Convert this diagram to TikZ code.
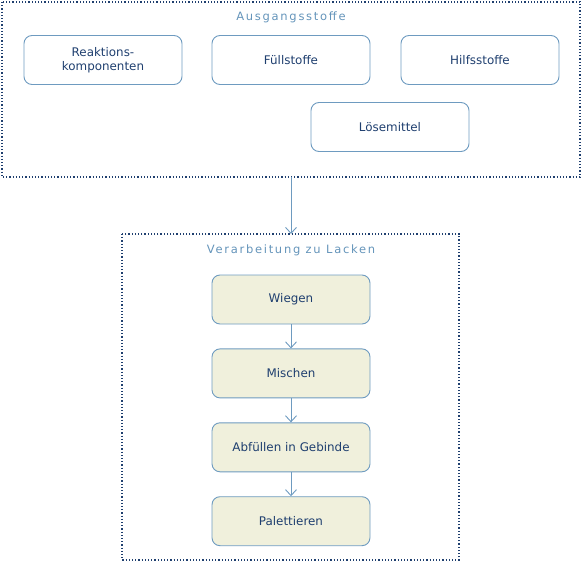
\documentclass[tikz,border=0pt]{standalone}
\usepackage{fontspec}
\setmainfont{DejaVu Sans}
\newfontfamily\titlefont[LetterSpace=15]{DejaVu Sans}
\usetikzlibrary{positioning,arrows.meta}

\definecolor{navy}{RGB}{31,63,111}
\definecolor{boxline}{RGB}{110,155,192}
\definecolor{boxfill}{RGB}{240,240,220}
\definecolor{titleblue}{RGB}{100,148,186}

\tikzset{
    group/.style={draw=navy, line width=1.2pt, dotted},
    grouptitle/.style={text=titleblue, font=\titlefont\fontsize{11.5}{13}\selectfont},
    stoff/.style={draw=boxline, line width=0.9pt, rounded corners=8pt, minimum width=158pt, minimum height=49pt,
        text=navy, align=center, font=\fontsize{11.9}{13.5}\selectfont},
    schritt/.style={stoff, fill=boxfill},
    flow/.style={draw=boxline, line width=0.9pt, -{Straight Barb[length=6pt,width=11pt]}}
}

\begin{document}
\begin{tikzpicture}[x=1pt, y=-1pt]
            \useasboundingbox (0,0) rectangle (582,562);
            % Ausgangsstoffe
            \draw[group] (2,2) rectangle (580,177);
            \node[grouptitle] (t1) at (291,17) {Ausgangsstoffe};
            \node[stoff] (reak) at (103,60) {Reaktions-\\komponenten};
            \node[stoff] (fuell) at (291,60) {Füllstoffe};
            \node[stoff] (hilf) at (480,60) {Hilfsstoffe};
            \node[stoff] (loes) at (390,127) {Lösemittel};
            \coordinate (aus) at (291,177);
            % Verarbeitung
            \draw[group] (122,234) rectangle (459,560);
            \coordinate (verein) at (291,234);
            \node[grouptitle] (t2) at (291,250) {Verarbeitung zu Lacken};
            \node[schritt] (wiegen) at (291,299.5) {Wiegen};
            \node[schritt, below=24pt of wiegen] (mischen) {Mischen};
            \node[schritt, below=24pt of mischen] (abfuell) {Abfüllen in Gebinde};
            \node[schritt, below=24pt of abfuell] (palett) {Palettieren};
            \draw[flow] (aus) -- (verein);
            \foreach \a/\b in {wiegen/mischen, mischen/abfuell, abfuell/palett}
                \draw[flow] (\a) -- (\b);
\end{tikzpicture}
\end{document}
